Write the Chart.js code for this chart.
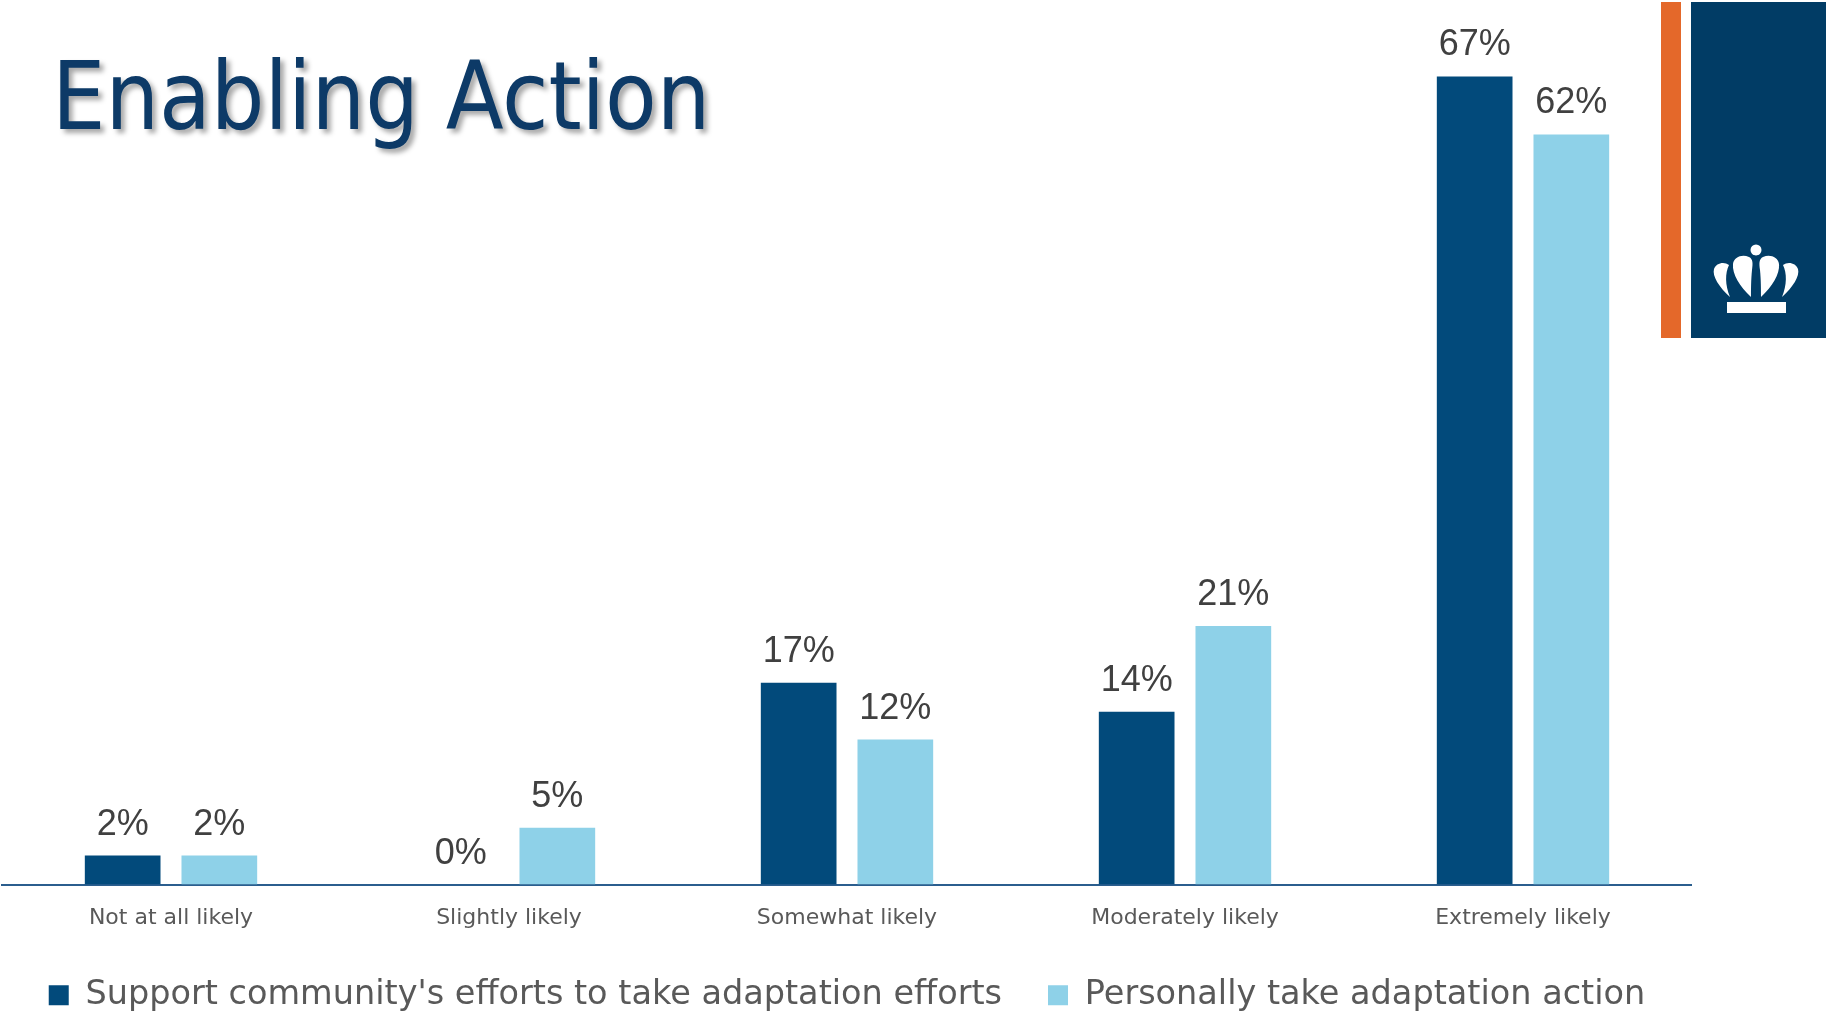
<!DOCTYPE html>
<html>
<head>
<meta charset="utf-8">
<title>Enabling Action</title>
<script src="https://cdn.jsdelivr.net/npm/chart.js@4.4.1/dist/chart.umd.min.js"></script>
<style>
  html, body {
    margin: 0;
    padding: 0;
    width: 1826px;
    height: 1015px;
    overflow: hidden;
    background: #ffffff;
  }
  .title {
    position: absolute;
    left: 52px;
    top: 50px;
    margin: 0;
    font-family: "DejaVu Sans Condensed", "DejaVu Sans", sans-serif;
    font-weight: normal;
    font-size: 94px;
    line-height: 1;
    color: #0d3a67;
    text-shadow: 4px 4px 5px rgba(0, 0, 0, 0.35);
    white-space: nowrap;
  }
  .chart-box {
    position: absolute;
    left: 0;
    top: 0;
    width: 1692px;
    height: 1022px;
  }
  .logo {
    position: absolute;
    left: 0;
    top: 0;
    pointer-events: none;
  }
</style>
</head>
<body>

<div class="chart-box"><canvas id="chart"></canvas></div>
<h1 class="title">Enabling Action</h1>

<svg class="logo" width="1826" height="1015" viewBox="0 0 1826 1015">
  <rect x="1661" y="2" width="20" height="336" fill="#e4682a"/>
  <rect x="1691" y="2" width="135" height="336" fill="#013c65"/>
  <g fill="#ffffff">
    <circle cx="1756" cy="250" r="5.5"/>
    <rect x="1727" y="302" width="59" height="11"/>
    <g id="crown-half">
      <path d="M1730,297 C1719,287 1712,276 1714,269 C1716,263 1724,261 1729,265 C1725,273 1725,285 1730,297 Z"/>
      <path d="M1751,297 C1740,287 1732,274 1733,264 C1734,257 1742,254 1749,257 C1753,259 1753,263 1752,270 C1751,280 1751,290 1751,297 Z"/>
    </g>
    <use href="#crown-half" transform="translate(3512,0) scale(-1,1)"/>
  </g>
</svg>

<script>
const categories = ['Not at all likely', 'Slightly likely', 'Somewhat likely', 'Moderately likely', 'Extremely likely'];
const seriesNames = ["Support community's efforts to take adaptation efforts", 'Personally take adaptation action'];
// percentages; labels show them rounded
const communityValues = [2.4, 0, 16.7, 14.3, 66.9];
const personalValues = [2.4, 4.7, 12.0, 21.4, 62.1];

const DARK_BLUE = '#024a7b';
const LIGHT_BLUE = '#8ed1e8';

// draws the "NN%" text above every bar
const barLabels = {
  id: 'barLabels',
  afterDatasetsDraw(chart) {
    const ctx = chart.ctx;
    ctx.save();
    ctx.font = '36px "Liberation Sans Narrow", "Liberation Sans", sans-serif';
    ctx.fillStyle = '#404040';
    ctx.textAlign = 'center';
    ctx.textBaseline = 'alphabetic';
    chart.data.datasets.forEach((ds, i) => {
      chart.getDatasetMeta(i).data.forEach((bar, j) => {
        ctx.fillText(Math.round(ds.data[j]) + '%', bar.x, bar.y - 21);
      });
    });
    ctx.restore();
  }
};

new Chart(document.getElementById('chart'), {
  type: 'bar',
  data: {
    labels: categories,
    datasets: [
      {
        label: seriesNames[0],
        data: communityValues,
        backgroundColor: DARK_BLUE,
        borderWidth: 0,
        categoryPercentage: 0.572,
        barPercentage: 0.783,
      },
      {
        label: seriesNames[1],
        data: personalValues,
        backgroundColor: LIGHT_BLUE,
        borderWidth: 0,
        categoryPercentage: 0.572,
        barPercentage: 0.783,
      },
    ],
  },
  options: {
    responsive: true,
    maintainAspectRatio: false,
    animation: false,
    layout: {
      padding: { top: 39, left: 2, right: 0, bottom: 0 },
    },
    scales: {
      x: {
        grid: { display: false },
        border: { display: true, color: '#2b5e8e', width: 2 },
        ticks: {
          color: '#595959',
          padding: 13,
          font: { family: '"DejaVu Sans", sans-serif', size: 22 },
        },
        afterFit(scale) {
          scale.height = 48;
        },
      },
      y: {
        display: false,
        min: 0,
        max: 70,
      },
    },
    plugins: {
      legend: {
        position: 'bottom',
        labels: {
          color: '#595959',
          boxWidth: 20,
          boxHeight: 20,
          padding: 46,
          font: { family: '"DejaVu Sans", sans-serif', size: 33.5 },
        },
      },
      tooltip: { enabled: false },
    },
  },
  plugins: [barLabels],
});
</script>
</body>
</html>
